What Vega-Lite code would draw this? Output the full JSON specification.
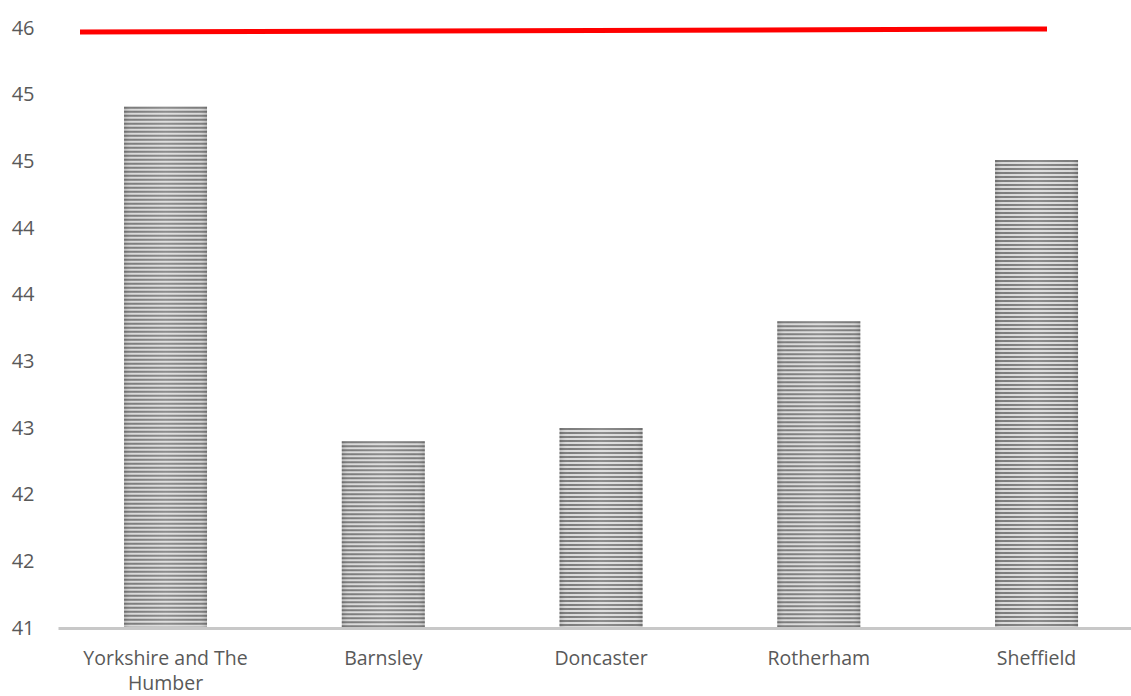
{
  "$schema": "https://vega.github.io/schema/vega-lite/v6.json",
  "width": 1073,
  "height": 600,
  "autosize": {"type": "none"},
  "padding": {"left": 58, "top": 28, "right": 0, "bottom": 68},
  "background": "white",
  "config": {
    "view": {"stroke": null},
    "font": "Open Sans"
  },
  "datasets": {
    "bars": [
      {"area": "Yorkshire and The Humber", "value": 44.91},
      {"area": "Barnsley", "value": 42.4},
      {"area": "Doncaster", "value": 42.5},
      {"area": "Rotherham", "value": 43.3},
      {"area": "Sheffield", "value": 44.51}
    ],
    "line": [
      {"pos": 0.0205, "value": 45.47},
      {"pos": 0.9217, "value": 45.4925}
    ]
  },
  "layer": [
    {
      "data": {"name": "bars"},
      "encoding": {
        "x": {
          "field": "area",
          "type": "nominal",
          "sort": null,
          "scale": {"paddingInner": 0.619, "paddingOuter": 0.2733, "align": 0.555},
          "axis": {
            "title": null,
            "labelAngle": 0,
            "ticks": false,
            "domainColor": "#c8c8c8",
            "domainWidth": 3,
            "labelColor": "#595959",
            "labelFont": "Open Sans",
            "labelFontSize": 19.5,
            "labelPadding": 21,
            "labelLineHeight": 25,
            "labelLimit": 0,
            "labelBound": false,
            "zindex": 1,
            "labelExpr": "datum.label == 'Yorkshire and The Humber' ? ['Yorkshire and The', 'Humber'] : datum.label"
          }
        },
        "y": {
          "field": "value",
          "type": "quantitative",
          "scale": {"domain": [41, 45.5], "zero": false, "nice": false},
          "axis": {
            "title": null,
            "grid": false,
            "domain": false,
            "ticks": false,
            "values": [41, 41.5, 42, 42.5, 43, 43.5, 44, 44.5, 45, 45.5],
            "format": ".0f",
            "labelColor": "#595959",
            "labelFont": "Open Sans",
            "labelFontSize": 20,
            "labelPadding": 24,
            "labelFlush": false,
            "labelOverlap": false
          }
        }
      },
      "layer": [
        {
          "mark": {"type": "bar", "fill": "#dadada"},
          "encoding": {
            "y2": {"datum": 41}
          }
        },
        {
          "mark": {"type": "rule", "color": "#7d7d7d", "strokeWidth": 83, "strokeDash": [2, 2], "strokeCap": "butt"},
          "encoding": {
            "y2": {"datum": 41}
          }
        },
        {
          "mark": {
            "type": "bar",
            "fill": {
              "gradient": "linear",
              "x1": 0, "y1": 0, "x2": 1, "y2": 0,
              "stops": [
                {"offset": 0, "color": "rgba(0,0,0,0.14)"},
                {"offset": 0.12, "color": "rgba(255,255,255,0)"},
                {"offset": 0.5, "color": "rgba(255,255,255,0.12)"},
                {"offset": 0.88, "color": "rgba(255,255,255,0)"},
                {"offset": 1, "color": "rgba(0,0,0,0.14)"}
              ]
            }
          },
          "encoding": {
            "y2": {"datum": 41}
          }
        }
      ]
    },
    {
      "data": {"name": "line"},
      "mark": {"type": "line", "color": "#ff0000", "strokeWidth": 5, "strokeCap": "butt"},
      "encoding": {
        "x": {"field": "pos", "type": "quantitative", "scale": {"domain": [0, 1], "nice": false, "zero": false}, "axis": null},
        "y": {"field": "value", "type": "quantitative"}
      }
    }
  ],
  "resolve": {"scale": {"x": "independent"}}
}
